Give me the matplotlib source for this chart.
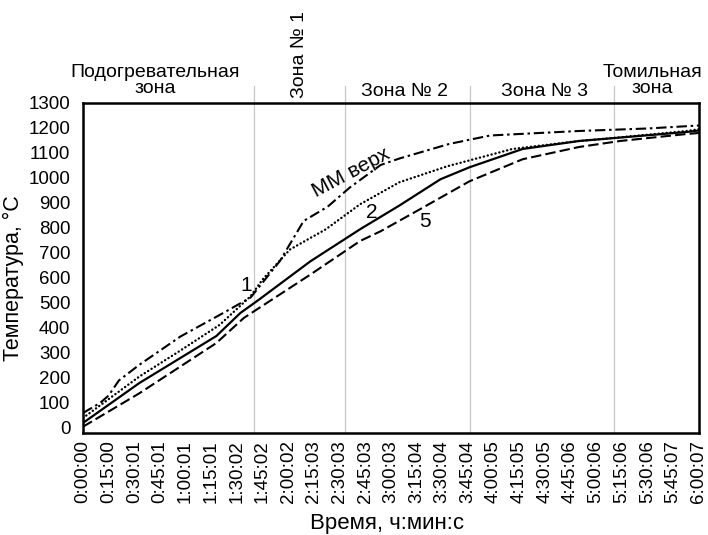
import numpy as np
import matplotlib
matplotlib.use("Agg")
import matplotlib.pyplot as plt
from matplotlib.transforms import blended_transform_factory

plt.rcParams['font.family'] = ['Liberation Sans', 'DejaVu Sans']

# time axis, minutes
tick_min = [15 * i for i in range(25)]
tick_labels = ["0:00:00", "0:15:00", "0:30:01", "0:45:01", "1:00:01", "1:15:01",
               "1:30:02", "1:45:02", "2:00:02", "2:15:03", "2:30:03", "2:45:03",
               "3:00:03", "3:15:04", "3:30:04", "3:45:04", "4:00:05", "4:15:05",
               "4:30:05", "4:45:06", "5:00:06", "5:15:06", "5:30:06", "5:45:07",
               "6:00:07"]

# MM верх (dash-dot)
t_mm = [0, 10, 15, 21, 33, 57, 82, 98, 115, 129, 143, 156, 174, 185, 214, 238, 290, 330, 360]
T_mm = [60, 100, 130, 190, 253, 366, 460, 522, 667, 828, 885, 962, 1052, 1078, 1136, 1170, 1188, 1198, 1210]

# curve 1 (dotted)
t_1 = [0, 33, 57, 80, 98, 105, 121, 142, 162, 185, 213, 251, 290, 310, 353, 360]
T_1 = [40, 206, 310, 413, 527, 594, 714, 795, 895, 983, 1047, 1116, 1148, 1160, 1188, 1195]

# curve 2 (solid)
t_2 = [0, 33, 78, 92, 103, 133, 162, 185, 209, 226, 257, 290, 353, 360]
T_2 = [20, 180, 368, 460, 514, 667, 795, 890, 995, 1043, 1116, 1148, 1184, 1190]

# curve 5 (dashed)
t_5 = [0, 33, 78, 94, 133, 162, 174, 197, 226, 257, 290, 314, 353, 360]
T_5 = [5, 139, 340, 440, 614, 748, 787, 875, 987, 1075, 1124, 1148, 1176, 1180]

# zone borders (minutes)
zone_borders = [100.1, 153.1, 226.2, 310.4]

fig = plt.figure(figsize=(7.08, 5.35), dpi=100)
ax = fig.add_axes([0.1172, 0.1907, 0.8701, 0.6168])

for xb in zone_borders:
    ax.axvline(xb, ymin=0, ymax=1.052, color='#c8c8c8', lw=0.9, clip_on=False, zorder=1)

ax.plot(t_mm, T_mm, color='black', lw=1.5, linestyle=(0, (5, 1.8, 1.2, 1.8)), zorder=3)
ax.plot(t_1, T_1, color='black', lw=1.7, linestyle=(0, (0.1, 1.6)), dash_capstyle='round', zorder=3)
ax.plot(t_2, T_2, color='black', lw=1.6, zorder=3)
ax.plot(t_5, T_5, color='black', lw=1.5, linestyle=(0, (5, 2)), zorder=3)

ax.set_xlim(0, 360.1)
ax.set_ylim(-20, 1300)
ax.set_yticks(range(0, 1301, 100))
ax.set_xticks(tick_min)
ax.set_xticklabels(tick_labels, rotation=90)
ax.tick_params(length=0, labelsize=13.5, pad=5)
ax.tick_params(axis='y', pad=9)
for s in ax.spines.values():
    s.set_linewidth(1.8)

ax.set_ylabel("Температура, °C", fontsize=15.5)
ax.yaxis.set_label_coords(-0.096, 0.47)
ax.set_xlabel("Время, ч:мин:с", fontsize=16)
ax.xaxis.set_label_coords(0.494, -0.243)

# curve labels
ax.text(156.5, 1020, "ММ верх", fontsize=15, rotation=28, ha='center', va='center')
ax.text(95.5, 570, "1", fontsize=15, ha='center', va='center')
ax.text(169, 860, "2", fontsize=15, ha='center', va='center')
ax.text(200, 825, "5", fontsize=15, ha='center', va='center')

# zone titles above the plot
tr = blended_transform_factory(ax.transData, ax.transAxes)
ax.text(42.1, 1.018, "Подогревательная\nзона", transform=tr, fontsize=14, ha='center',
        va='bottom', linespacing=0.95)
ax.text(126.8, 1.015, "Зона № 1", transform=tr, fontsize=14, ha='center', va='bottom',
        rotation=90)
ax.text(188.2, 1.008, "Зона № 2", transform=tr, fontsize=14, ha='center', va='bottom')
ax.text(270, 1.008, "Зона № 3", transform=tr, fontsize=14, ha='center', va='bottom')
ax.text(333, 1.018, "Томильная\nзона", transform=tr, fontsize=14, ha='center',
        va='bottom', linespacing=0.95)

fig.savefig("out.png", dpi=100)
